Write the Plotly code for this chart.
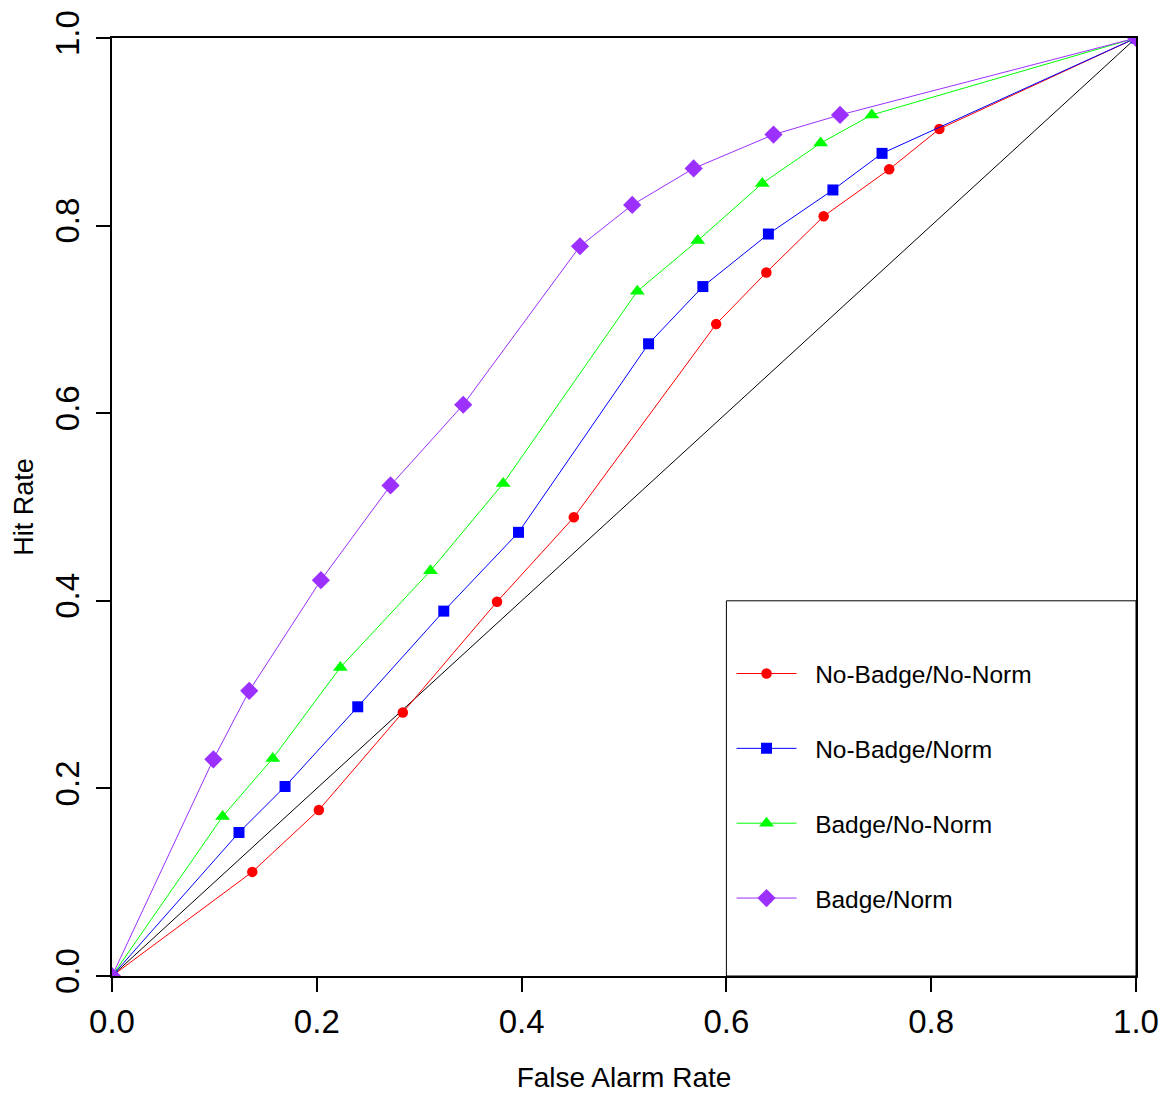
import plotly.graph_objects as go

# Data (False Alarm Rate, Hit Rate) per condition
series_names = ["No-Badge/No-Norm", "No-Badge/Norm", "Badge/No-Norm", "Badge/Norm"]

nbnn_far = [0.0, 0.137, 0.202, 0.284, 0.376, 0.451, 0.590, 0.639, 0.695, 0.759, 0.808, 1.0]
nbnn_hit = [0.0, 0.111, 0.177, 0.281, 0.399, 0.489, 0.695, 0.750, 0.810, 0.860, 0.903, 1.0]

nbn_far = [0.0, 0.124, 0.169, 0.240, 0.324, 0.397, 0.524, 0.577, 0.641, 0.704, 0.752, 1.0]
nbn_hit = [0.0, 0.153, 0.202, 0.287, 0.389, 0.473, 0.674, 0.735, 0.791, 0.838, 0.877, 1.0]

bnn_far = [0.0, 0.108, 0.157, 0.223, 0.311, 0.382, 0.513, 0.572, 0.635, 0.692, 0.742, 1.0]
bnn_hit = [0.0, 0.170, 0.232, 0.329, 0.432, 0.525, 0.730, 0.784, 0.845, 0.888, 0.918, 1.0]

bn_far = [0.0, 0.099, 0.134, 0.204, 0.272, 0.343, 0.457, 0.508, 0.568, 0.646, 0.711, 1.0]
bn_hit = [0.0, 0.231, 0.304, 0.422, 0.523, 0.609, 0.778, 0.822, 0.861, 0.897, 0.918, 1.0]

chance_x = [0.0, 1.0]
chance_y = [0.0, 1.0]

tick_vals = [0.0, 0.2, 0.4, 0.6, 0.8, 1.0]
tick_text = ["0.0", "0.2", "0.4", "0.6", "0.8", "1.0"]

colors = ["#FF0000", "#0000FF", "#00FF00", "#9B30FF"]
symbols = ["circle", "square", "triangle-up", "diamond"]
msizes = [10.5, 11, 13, 14]

FONT = "Liberation Sans, Arial, sans-serif"
NBSP = "\u00a0\u00a0"

fig = go.Figure()

fig.add_trace(go.Scatter(x=chance_x, y=chance_y, mode="lines",
                         line=dict(color="black", width=1), showlegend=False,
                         hoverinfo="skip"))

all_x = [nbnn_far, nbn_far, bnn_far, bn_far]
all_y = [nbnn_hit, nbn_hit, bnn_hit, bn_hit]
for i, name in enumerate(series_names):
    fig.add_trace(go.Scatter(
        x=all_x[i], y=all_y[i], mode="lines+markers", name=NBSP + name,
        legendgroup=name,
        line=dict(color=colors[i], width=1),
        marker=dict(color=colors[i], symbol=symbols[i], size=msizes[i]),
    ))

# legend box (drawn in data coordinates)
fig.add_shape(type="rect", xref="x", yref="y", x0=0.6, x1=1.0, y0=0.0, y1=0.4,
              line=dict(color="black", width=1), fillcolor="rgba(0,0,0,0)")

axis_common = dict(
    range=[0, 1], tickvals=tick_vals, ticktext=tick_text,
    showgrid=False, zeroline=False, showline=True, mirror=True,
    linecolor="black", linewidth=1.5, ticks="outside", ticklen=14,
    tickwidth=1.5, tickcolor="black", automargin=False,
    ticklabeloverflow="allow",
    tickfont=dict(family=FONT, size=33, color="black"),
)

fig.update_xaxes(**axis_common, ticklabelstandoff=2,
                 title=dict(text="False Alarm Rate", standoff=31,
                            font=dict(family=FONT, size=28, color="black")))
fig.update_yaxes(**axis_common, tickangle=-90, ticklabelstandoff=4,
                 title=dict(text="Hit Rate", standoff=8,
                            font=dict(family=FONT, size=27, color="black")))

fig.update_layout(
    width=1158, height=1093, autosize=False,
    margin=dict(l=112, r=22, t=38, b=117),
    plot_bgcolor="white", paper_bgcolor="white",
    legend=dict(x=0.605, y=0.3464, xanchor="left", yanchor="top",
                bgcolor="rgba(0,0,0,0)", borderwidth=0,
                font=dict(family=FONT, size=24.5, color="black"),
                itemwidth=60, tracegroupgap=40, itemclick=False),
    showlegend=True,
)

fig.write_html(
    "out.html",
    config={"displayModeBar": False},
    post_script="document.body.style.margin='0';document.body.style.overflow='hidden';",
)
